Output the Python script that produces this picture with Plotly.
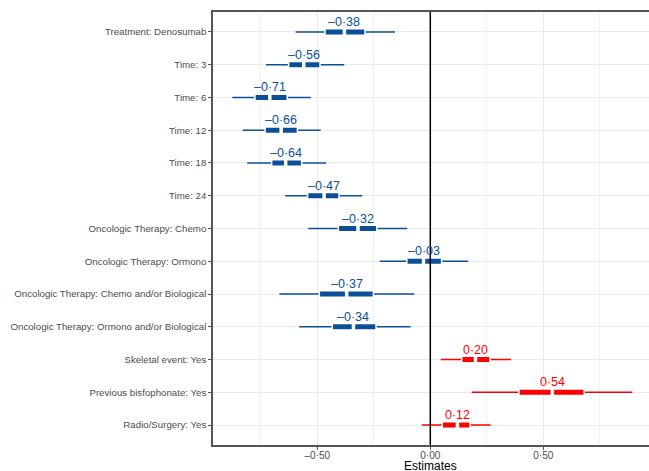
import plotly.graph_objects as go

terms = ["Treatment: Denosumab", "Time: 3", "Time: 6", "Time: 12", "Time: 18", "Time: 24",
         "Oncologic Therapy: Chemo", "Oncologic Therapy: Ormono",
         "Oncologic Therapy: Chemo and/or Biological", "Oncologic Therapy: Ormono and/or Biological",
         "Skeletal event: Yes", "Previous bisfophonate: Yes", "Radio/Surgery: Yes"]
estimate = [-0.38, -0.56, -0.71, -0.66, -0.64, -0.47, -0.32, -0.03, -0.37, -0.34, 0.20, 0.54, 0.12]
outer_lo = [-0.596, -0.727, -0.876, -0.830, -0.810, -0.642, -0.540, -0.223, -0.668, -0.580, 0.046, 0.183, -0.038]
outer_hi = [-0.156, -0.381, -0.529, -0.485, -0.461, -0.301, -0.102, 0.168, -0.071, -0.087, 0.357, 0.894, 0.267]
inner_lo = [-0.466, -0.627, -0.776, -0.731, -0.702, -0.543, -0.407, -0.104, -0.491, -0.434, 0.139, 0.392, 0.053]
inner_hi = [-0.289, -0.488, -0.633, -0.588, -0.569, -0.404, -0.237, 0.050, -0.252, -0.240, 0.264, 0.681, 0.176]
labels = ["–0·38", "–0·56", "–0·71", "–0·66", "–0·64", "–0·47", "–0·32", "–0·03", "–0·37", "–0·34",
          "0·20", "0·54", "0·12"]
x_tickvals = [-0.5, 0.0, 0.5]
x_ticktext = ["–0·50", "0·00", "0·50"]

BLUE = "#0b4f99"
RED = "#ff0000"
FONT = "Liberation Sans, Arial, sans-serif"

pos = list(range(1, len(terms) + 1))

fig = go.Figure()

# reference zero line
fig.add_shape(type="line", x0=0, x1=0, y0=0, y1=1, yref="paper", xref="x",
              line=dict(color="black", width=1.5), layer="above")

for color, positive in [(BLUE, False), (RED, True)]:
    idx = [i for i in range(len(terms)) if (estimate[i] > 0) == positive]
    xs, ys = [], []
    for i in idx:
        xs += [outer_lo[i], outer_hi[i], None]
        ys += [pos[i], pos[i], None]
    fig.add_trace(go.Scatter(x=xs, y=ys, mode="lines", line=dict(color=color, width=1.6),
                             hoverinfo="skip", showlegend=False))
    xs, ys = [], []
    for i in idx:
        xs += [inner_lo[i], inner_hi[i], None]
        ys += [pos[i], pos[i], None]
    fig.add_trace(go.Scatter(x=xs, y=ys, mode="lines", line=dict(color=color, width=5),
                             hoverinfo="skip", showlegend=False))
    # white separators at inner interval ends
    ex, ey = [], []
    for i in idx:
        ex += [inner_lo[i], inner_hi[i]]
        ey += [pos[i], pos[i]]
    fig.add_trace(go.Scatter(x=ex, y=ey, mode="markers",
                             marker=dict(symbol="line-ns", size=8, line=dict(color="white", width=1.5)),
                             hoverinfo="skip", showlegend=False))
    fig.add_trace(go.Scatter(x=[estimate[i] for i in idx], y=[pos[i] for i in idx], mode="markers",
                             marker=dict(symbol="line-ns", size=8, line=dict(color="white", width=3.5)),
                             hoverinfo="skip", showlegend=False))
    for i in idx:
        fig.add_annotation(x=estimate[i], y=pos[i], text=labels[i], showarrow=False,
                           yshift=10, font=dict(family=FONT, size=12.5, color=color))

# x-axis title
fig.add_annotation(x=0.0, xref="x", y=0, yref="paper", yshift=-21, text="Estimates", showarrow=False,
                   yanchor="middle", font=dict(family=FONT, size=12, color="black"))

fig.update_layout(
    width=649, height=471,
    margin=dict(l=213, r=0, t=12, b=26, autoexpand=False),
    plot_bgcolor="white", paper_bgcolor="white",
    font=dict(family=FONT),
    showlegend=False,
)
fig.update_xaxes(
    range=[-0.9615, 0.9677],
    tickvals=x_tickvals, ticktext=x_ticktext,
    tickfont=dict(family=FONT, size=10, color="#4d4d4d"),
    showgrid=True, gridcolor="#ebebeb", gridwidth=1,
    minor=dict(tickvals=[-0.75, -0.25, 0.25, 0.75], showgrid=True, gridcolor="#f2f2f2", gridwidth=1),
    zeroline=False, automargin=False,
    showline=True, linecolor="#555555", linewidth=1.5, mirror=True,
    ticks="outside", ticklen=3, tickcolor="#555555", ticklabelstandoff=-3,
)
fig.update_yaxes(
    range=[13.61, 0.39],
    tickvals=pos, ticktext=terms,
    tickfont=dict(family=FONT, size=9.7, color="#4d4d4d"),
    showgrid=True, gridcolor="#ebebeb", gridwidth=1,
    zeroline=False, automargin=False,
    showline=True, linecolor="#555555", linewidth=1.5,
    ticks="outside", ticklen=3, tickcolor="#555555",
)

fig.write_html("out.html")
